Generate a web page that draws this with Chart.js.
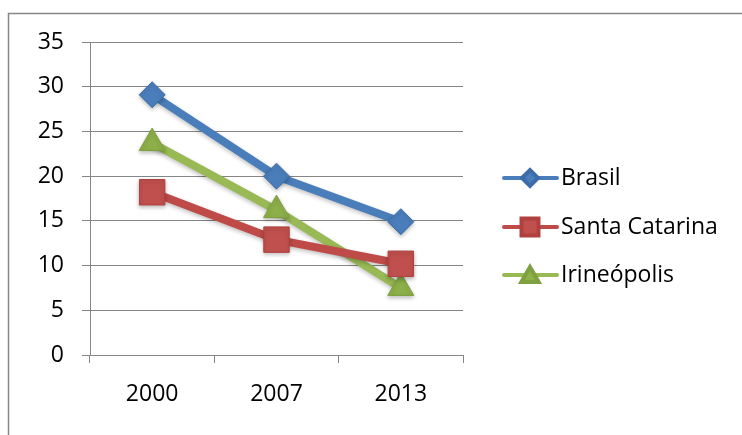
<!DOCTYPE html>
<html>
<head>
<meta charset="utf-8">
<script src="https://cdn.jsdelivr.net/npm/chart.js@4"></script>
<style>
  body { margin: 0; background: #fff; }
  #wrap { width: 742px; height: 435px; }
</style>
</head>
<body>
<div id="wrap"><canvas id="grafico"></canvas></div>
<script>
// dados
const anos = ['2000', '2007', '2013'];
const brasil = [29.1, 20, 14.9];
const santaCatarina = [18.2, 12.9, 10.2];
const irineopolis = [23.7, 16.2, 7.5];
const yTicks = [0, 5, 10, 15, 20, 25, 30, 35];

const cinza = '#868686';
const fonte = '"Open Sans", "Noto Sans", sans-serif';

// moldura externa (só borda esquerda e superior aparecem)
const moldura = {
    id: 'moldura',
    beforeDraw(chart) {
        const ctx = chart.ctx;
        ctx.save();
        ctx.strokeStyle = cinza;
        ctx.lineWidth = 1.5;
        ctx.strokeRect(8.5, 13.5, 1000, 1000);
        ctx.restore();
    }
};

// sombra leve nos marcadores
const sombra = {
    id: 'sombra',
    beforeDatasetsDraw(chart) {
        const ctx = chart.ctx;
        ctx.save();
        ctx.shadowColor = 'rgba(0,0,0,0.25)';
        ctx.shadowBlur = 4;
        ctx.shadowOffsetY = 2;
    },
    afterDatasetsDraw(chart) {
        chart.ctx.restore();
    }
};

// legenda à direita: linha + marcador
const legenda = {
    id: 'legenda',
    afterDraw(chart) {
        const ctx = chart.ctx;
        const linhas = [178, 227, 275];
        const raios = [8, 12, 10];
        chart.data.datasets.forEach((ds, i) => {
            const y = linhas[i];
            ctx.save();
            ctx.strokeStyle = ds.borderColor;
            ctx.lineWidth = 4;
            ctx.lineCap = 'round';
            ctx.beginPath();
            ctx.moveTo(504, y);
            ctx.lineTo(557, y);
            ctx.stroke();
            ctx.fillStyle = ds.pointBackgroundColor;
            ctx.strokeStyle = ds.pointBorderColor;
            Chart.helpers.drawPoint(ctx, {
                pointStyle: ds.pointStyle,
                radius: raios[i],
                borderWidth: 1,
                rotation: 0
            }, 530, ds.pointStyle === 'triangle' ? y + 2 : y);
            ctx.fillStyle = '#000';
            ctx.font = '23px ' + fonte;
            ctx.textBaseline = 'middle';
            ctx.fillText(ds.label, 561, y);
            ctx.restore();
        });
    }
};

new Chart(document.getElementById('grafico'), {
    type: 'line',
    data: {
        labels: anos,
        datasets: [{
            label: 'Brasil',
            data: brasil,
            borderColor: '#4A7EBB',
            borderWidth: 8,
            pointStyle: 'rectRot',
            pointRadius: 13,
            pointBackgroundColor: '#4A7EBB',
            pointBorderColor: '#3D6DA8',
            pointBorderWidth: 1
        }, {
            label: 'Santa Catarina',
            data: santaCatarina,
            borderColor: '#BE4B48',
            borderWidth: 8,
            pointStyle: 'rect',
            pointRadius: 18,
            pointBackgroundColor: '#C0504D',
            pointBorderColor: '#B0413F',
            pointBorderWidth: 1
        }, {
            label: 'Irineópolis',
            data: irineopolis,
            borderColor: '#98B954',
            borderWidth: 8,
            pointStyle: 'triangle',
            pointRadius: 15,
            pointBackgroundColor: '#8DB049',
            pointBorderColor: '#7FA03E',
            pointBorderWidth: 1
        }]
    },
    options: {
        responsive: true,
        maintainAspectRatio: false,
        animation: false,
        layout: { padding: { left: 0, top: 42, right: 279, bottom: 0 } },
        plugins: {
            legend: { display: false },
            tooltip: { enabled: false }
        },
        elements: { line: { tension: 0 } },
        scales: {
            x: {
                offset: true,
                afterFit: s => { s.height = 80; },
                grid: {
                    offset: true,
                    drawOnChartArea: false,
                    drawTicks: true,
                    tickLength: 8,
                    color: cinza
                },
                border: { color: cinza, width: 1 },
                ticks: { color: '#000', padding: 18, font: { family: fonte, size: 23 } }
            },
            y: {
                min: 0,
                max: 35,
                afterFit: s => { s.width = 90; },
                afterBuildTicks: s => { s.ticks = yTicks.map(v => ({ value: v })); },
                grid: { color: cinza, lineWidth: 1, tickLength: 8 },
                border: { color: cinza, width: 1 },
                ticks: { color: '#000', padding: 18, font: { family: fonte, size: 23 } }
            }
        }
    },
    plugins: [moldura, sombra, legenda]
});
</script>
</body>
</html>
